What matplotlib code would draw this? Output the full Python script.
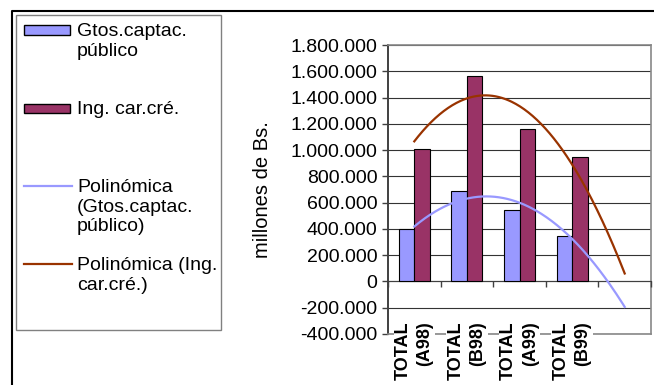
import numpy as np
import matplotlib
matplotlib.use("Agg")
import matplotlib.pyplot as plt
from matplotlib.patches import Rectangle
from matplotlib.lines import Line2D
from matplotlib.ticker import FuncFormatter, FixedLocator

plt.rcParams['font.family'] = ['Liberation Sans', 'DejaVu Sans']

# datos (millones de Bs.)
categories = ["TOTAL\n(A98)", "TOTAL\n(B98)", "TOTAL\n(A99)", "TOTAL\n(B99)", ""]
gtos = [400000, 686000, 544000, 343000]
ing = [1009000, 1566000, 1162000, 948000]
legend_labels = ["Gtos.captac.\npúblico", "Ing. car.cré.",
                 "Polinómica\n(Gtos.captac.\npúblico)", "Polinómica (Ing.\ncar.cré.)"]

W, H = 654, 385
col_gtos = '#9999FF'
col_ing = '#993366'
col_trend_ing = '#993300'


def fx(px):
    return px / W


def fy(py):
    return 1 - py / H


fig = plt.figure(figsize=(W / 100, H / 100), dpi=100)
ax = fig.add_axes([fx(388), fy(334), (651 - 388) / W, (334 - 45) / H])

# eje de categorías sobre el cero (antes de tocar las etiquetas)
ax.spines['bottom'].set_position(('data', 0))
ax.spines['bottom'].set_color('#404040')
ax.spines['left'].set_color('#404040')
ax.spines['left'].set_linewidth(1.4)
for s in ['top', 'right']:
    ax.spines[s].set_color('#888888')
    ax.spines[s].set_linewidth(1.2)

x = np.arange(len(categories))
xb = x[:len(gtos)]
w = 0.295
ax.bar(xb - w / 2, gtos, w, color=col_gtos, edgecolor='black', linewidth=0.8, zorder=3)
ax.bar(xb + w / 2, ing, w, color=col_ing, edgecolor='black', linewidth=0.8, zorder=3)

# líneas de tendencia polinómica (orden 2), pronóstico 1 periodo
xs = np.linspace(0, len(categories) - 1, 200)
ax.plot(xs, np.polyval(np.polyfit(xb, gtos, 2), xs), color=col_gtos, lw=1.6, zorder=4)
ax.plot(xs, np.polyval(np.polyfit(xb, ing, 2), xs), color=col_trend_ing, lw=1.6, zorder=4)

ax.set_xlim(-0.5, len(categories) - 0.5)
ax.set_ylim(-400000, 1800000)
ax.set_yticks(np.arange(-400000, 1800001, 200000))
ax.yaxis.set_major_formatter(FuncFormatter(lambda v, p: f"{v:,.0f}".replace(',', '.')))
ax.tick_params(axis='y', labelsize=14, length=4.5, width=1, color='#404040', pad=3)
ax.yaxis.grid(True, color='#333333', lw=0.8)
ax.set_axisbelow(True)

ax.xaxis.set_minor_locator(FixedLocator(np.arange(-0.5, len(categories), 1)))
ax.tick_params(axis='x', which='major', length=0, pad=29)
ax.tick_params(axis='x', which='minor', length=4, width=1, color='#404040', direction='out')
ax.set_xticks(x)
ax.set_xticklabels(categories, rotation=90, fontsize=13, fontweight='bold',
                   ma='right', linespacing=1.35, va='top', ha='center')
for lbl in ax.get_xticklabels():
    lbl.set_bbox(dict(facecolor='white', edgecolor='none', pad=1))
ax.xaxis.set_zorder(5)

ax.axhline(-400000, color='#888888', lw=1.2, zorder=2.6, clip_on=False)

ax.set_ylabel('millones de Bs.', fontsize=14.5)
ax.yaxis.set_label_coords((263 - 388) / (651 - 388), 0.5)
ax.yaxis.label.set_verticalalignment('center')

# marco exterior
fig.add_artist(Line2D([fx(12), fx(12), fx(W + 5)], [fy(H + 5), fy(10.5), fy(10.5)],
                      color='black', lw=1.5))

# leyenda
fig.add_artist(Rectangle((fx(16), fy(330)), fx(221 - 16), (330 - 15) / H,
                         facecolor='white', edgecolor='#808080', lw=1))
handle_y = [30, 108, 186, 264]
for i, (lab, hy) in enumerate(zip(legend_labels, handle_y)):
    if i < 2:
        fig.add_artist(Rectangle((fx(24), fy(hy + 4.5)), fx(46), 9 / H,
                                 facecolor=[col_gtos, col_ing][i], edgecolor='black', lw=1))
    else:
        fig.add_artist(Line2D([fx(24), fx(72)], [fy(hy), fy(hy)],
                              color=[col_gtos, col_trend_ing][i - 2], lw=1.6))
    fig.text(fx(77), fy(hy - 7), lab, fontsize=14, va='top', ha='left', linespacing=1.2)

fig.savefig('out.png', dpi=100)
